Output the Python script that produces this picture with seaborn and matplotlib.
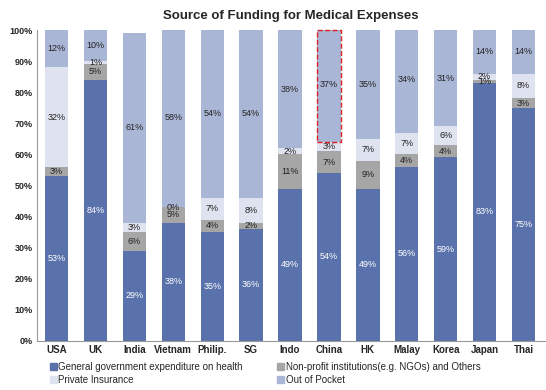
import pandas as pd
import matplotlib
matplotlib.use('Agg')
import matplotlib.pyplot as plt
from matplotlib.patches import Rectangle, Patch
import seaborn as sns

countries = ['USA', 'UK', 'India', 'Vietnam', 'Philip.', 'SG', 'Indo', 'China',
             'HK', 'Malay', 'Korea', 'Japan', 'Thai']
gov = [53, 84, 29, 38, 35, 36, 49, 54, 49, 56, 59, 83, 75]
npo = [3, 5, 6, 5, 4, 2, 11, 7, 9, 4, 4, 1, 3]
private = [32, 1, 3, 0, 7, 8, 2, 3, 7, 7, 6, 2, 8]
oop = [12, 10, 61, 58, 54, 54, 38, 37, 35, 34, 31, 14, 14]

series_names = ['General government expenditure on health',
                'Non-profit institutions(e.g. NGOs) and Others',
                'Private Insurance', 'Out of Pocket']
colors = ['#5a72ab', '#a6a6a6', '#dfe3ef', '#aab6d6']
text_colors = ['white', '#222222', '#222222', '#222222']

sns.set_style('white')
plt.rcParams['font.family'] = ['Liberation Sans', 'DejaVu Sans']

df = pd.DataFrame({'country': countries, 'gov': gov, 'npo': npo,
                   'private': private, 'oop': oop})
cols = ['gov', 'npo', 'private', 'oop']
cum = df[cols].cumsum(axis=1) / 100.0

fig = plt.figure(figsize=(5.46, 3.90), dpi=100)
ax = fig.add_axes([0.068, 0.126, 0.93, 0.797])

# stacked bars: draw tallest cumulative first, then overlay the lower ones
for i in range(3, -1, -1):
    sns.barplot(x=df['country'], y=cum[cols[i]], color=colors[i], width=0.6,
                saturation=1, ax=ax, order=countries, linewidth=0,
                edgecolor='none')

# segment labels
for i, c in enumerate(cols):
    base = cum[cols[i - 1]] if i > 0 else 0 * cum[c]
    for j in range(len(countries)):
        v = df[c][j]
        mid = base[j] + v / 200.0
        ax.text(j, mid, f'{v}%', ha='center', va='center', fontsize=6.5,
                color=text_colors[i])

# dashed highlight box around China's out-of-pocket share
k = countries.index('China')
ax.add_patch(Rectangle((k - 0.31, cum['private'][k]), 0.62,
                       1.0 - cum['private'][k], fill=False,
                       edgecolor='#e02020', linestyle='--', linewidth=1.0,
                       clip_on=False, zorder=5))

ax.set_ylim(0, 1.0)
ax.set_xlim(-0.5, 12.55)
ax.set_yticks([i / 10 for i in range(11)])
ax.set_yticklabels([f'{i * 10}%' for i in range(11)], fontsize=6.5,
                   fontweight='bold')
ax.set_xticks(range(len(countries)))
ax.set_xticklabels(countries, fontsize=7, fontweight='bold')
ax.set_xlabel('')
ax.set_ylabel('')
ax.tick_params(axis='both', length=0, pad=3)
for s in ['top', 'right']:
    ax.spines[s].set_visible(False)
for s in ['left', 'bottom']:
    ax.spines[s].set_color('#999999')
    ax.spines[s].set_linewidth(0.8)

ax.set_title('Source of Funding for Medical Expenses', fontsize=9.5,
             fontweight='bold', pad=8)

handles = [Patch(color=colors[0]), Patch(color=colors[2]),
           Patch(color=colors[1]), Patch(color=colors[3])]
labels = [series_names[0], series_names[2], series_names[1], series_names[3]]
fig.legend(handles, labels, ncol=2, loc='lower left',
           bbox_to_anchor=(0.075, -0.01), frameon=False, fontsize=7,
           handlelength=0.7, handleheight=0.7, handletextpad=0.2,
           columnspacing=3.5, labelspacing=0.35)

fig.savefig('out.png', dpi=100)
